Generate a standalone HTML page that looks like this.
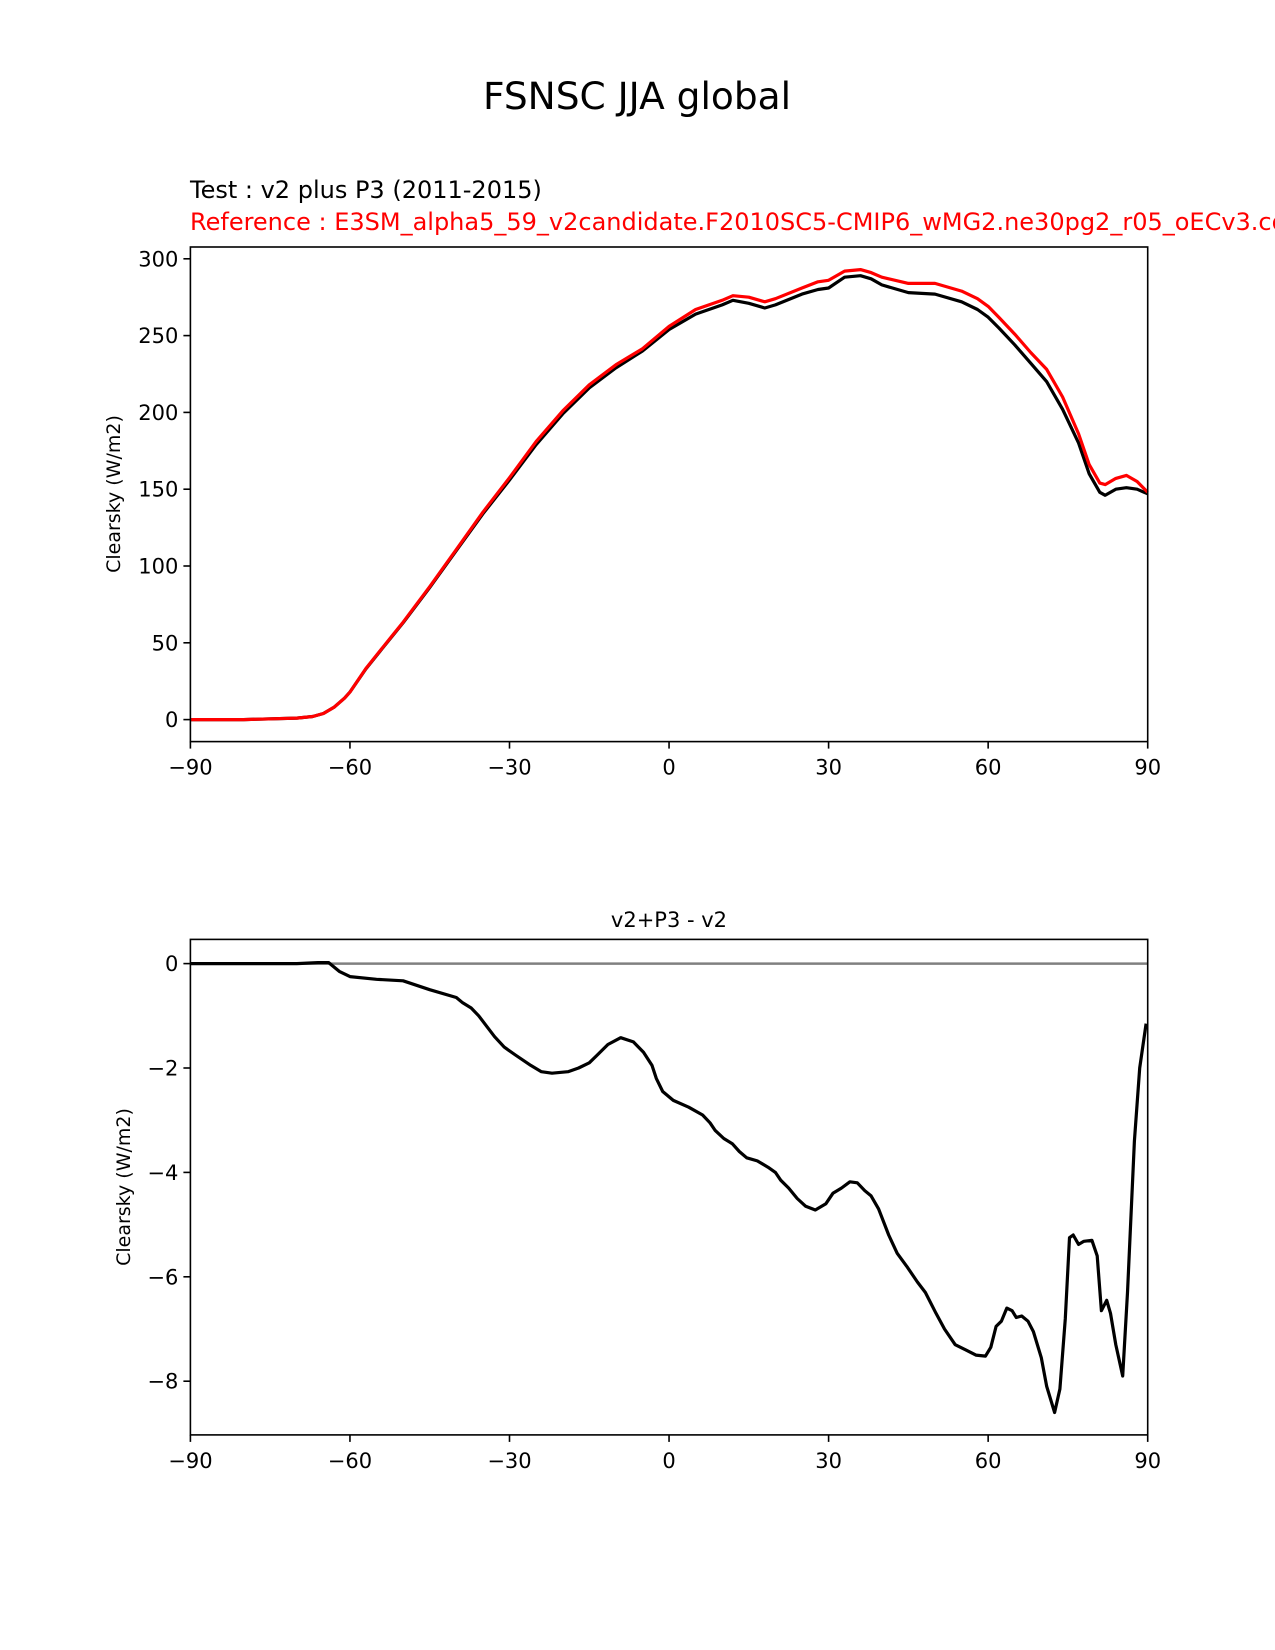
<!DOCTYPE html>
<html><head><meta charset="utf-8"><style>
body{margin:0;background:#fff;overflow:hidden;}
svg{display:block;font-family:"DejaVu Sans","Liberation Sans",sans-serif;}
</style></head><body>
<svg id="fig" width="1275" height="1650" viewBox="0 0 1275 1650">
<text x="637" y="109" font-size="37.5" text-anchor="middle">FSNSC JJA global</text>
<text x="190" y="198" font-size="24">Test : v2 plus P3 (2011-2015)</text>
<text x="190" y="230" font-size="24" fill="#ff0000">Reference : E3SM_alpha5_59_v2candidate.F2010SC5-CMIP6_wMG2.ne30pg2_r05_oECv3.cd</text>
<text x="669" y="927" font-size="21" text-anchor="middle">v2+P3 - v2</text>
<text transform="translate(120,494) rotate(-90)" font-size="19" text-anchor="middle">Clearsky (W/m2)</text>
<text transform="translate(130,1187) rotate(-90)" font-size="19" text-anchor="middle">Clearsky (W/m2)</text>
<g id="top"></g>
<g id="bot"></g>
</svg>
<script>
const xTicks=[-90,-60,-30,0,30,60,90];
const topYTicks=[0,50,100,150,200,250,300];
const botYTicks=[0,-2,-4,-6,-8];
const topLat=[-90,-80,-70,-67,-65,-63,-61,-60,-57,-54,-50,-45,-40,-35,-30,-25,-20,-15,-10,-5,0,5,10,12,15,18,20,25,28,30,33,36,38,40,45,50,55,58,60,62,65,68,71,74,77,79,81,82,84,86,88,90];
const testVals=[0,0,1,2,4,8,14,18,33,46,63,86,110,134,156,179,199,216,229,240,254,264,270,273,271,268,270,277,280,281,288,289,287,283,278,277,272,267,262,255,244,232,220,202,180,160,148,146,150,151,150,147];
const refVals=[0,0,1,2,4,8,14,18,33.3,46.3,63.4,86.5,110.7,135,157.5,181,201,218,231,241.5,256,267,273,276,275,272,274,281,285,286,292,293,291,288,284,284,279,274,269,262,251,239,228,210,186,166,154,153,157,159,155,148];
const diffLat=[-90,-70,-66,-64,-62,-60,-55,-50,-45,-40,-38.8,-37.2,-35.8,-34.3,-32.8,-31,-28.9,-26,-24,-22,-19,-17,-15,-13.5,-11.5,-9.1,-6.7,-4.8,-3.2,-2.4,-1.2,0.8,3.7,6.3,7.7,8.7,10.3,11.9,13.2,14.6,16.6,18.6,20,21,22.5,24.1,25.7,27.5,29.5,30.8,32.4,34,35.4,36.8,38,39.4,41.3,42.9,44.7,46.7,48.2,50.2,51.8,53.8,55.8,57.7,59.5,60.5,61.5,62.5,63.5,64.5,65.3,66.3,67.5,68.5,70,71,72.5,73.5,74.5,75.3,76,77,78,79.5,80.5,81.3,82.3,83,84,85.3,86.2,87.5,88.5,89.7];
const diffVals=[0,0,0.02,0.02,-0.15,-0.25,-0.3,-0.33,-0.5,-0.65,-0.75,-0.85,-1.0,-1.2,-1.4,-1.6,-1.75,-1.95,-2.07,-2.1,-2.07,-2.0,-1.9,-1.75,-1.55,-1.42,-1.5,-1.7,-1.95,-2.2,-2.45,-2.62,-2.75,-2.9,-3.05,-3.2,-3.35,-3.45,-3.6,-3.72,-3.78,-3.9,-4.0,-4.15,-4.3,-4.5,-4.65,-4.72,-4.6,-4.4,-4.3,-4.18,-4.2,-4.35,-4.45,-4.7,-5.2,-5.55,-5.8,-6.1,-6.3,-6.7,-7.0,-7.3,-7.4,-7.5,-7.52,-7.35,-6.95,-6.85,-6.6,-6.65,-6.78,-6.75,-6.85,-7.05,-7.55,-8.1,-8.6,-8.15,-6.8,-5.25,-5.2,-5.38,-5.32,-5.3,-5.6,-6.65,-6.45,-6.7,-7.3,-7.9,-6.3,-3.4,-2.0,-1.15];
const NS='http://www.w3.org/2000/svg';
const X0=190.4,X1=1147.7;
function xs(v){return X0+(v+90)/180*(X1-X0);}
function mk(p,t,a){const e=document.createElementNS(NS,t);for(const k in a)e.setAttribute(k,a[k]);p.appendChild(e);return e;}
function panel(g,top,bot,yMap,yt,fmt,pfx){
  for(const t of xTicks){const x=xs(t);
    const l=mk(g,'line',{x1:x,x2:x,y1:bot,y2:bot+7,stroke:'#000','stroke-width':1.6});
    
    const tx=mk(g,'text',{x:x,y:bot+33,'font-size':21,'text-anchor':'middle'});tx.textContent=fmt(t);
    }
  for(const t of yt){const y=yMap(t);
    const l=mk(g,'line',{x1:X0-7,x2:X0,y1:y,y2:y,stroke:'#000','stroke-width':1.6});
    
    const tx=mk(g,'text',{x:X0-12,y:y+7.5,'font-size':21,'text-anchor':'end'});tx.textContent=fmt(t);
    }
}
function line(g,lat,vals,yMap,color,name,w){
  const d=lat.map((v,i)=>(i?'L':'M')+xs(v).toFixed(1)+','+yMap(vals[i]).toFixed(1)).join('');
  const p=mk(g,'path',{d:d,fill:'none',stroke:color,'stroke-width':w,'stroke-linejoin':'round'});
  
}
const fmt=v=>String(v).replace('-','\u2212');
const gT=document.getElementById('top');
const yT=v=>719.6-v*1.536;
panel(gT,247,741.6,yT,topYTicks,fmt,'top');
line(gT,topLat,testVals,yT,'#000','test-line',3.2);
line(gT,topLat,refVals,yT,'#ff0000','reference-line',3.2);
const fT=mk(gT,'rect',{x:X0,y:247,width:X1-X0,height:741.6-247,fill:'none',stroke:'#000','stroke-width':1.6});

const gB=document.getElementById('bot');
const yB=v=>963.6-v*52.2;
panel(gB,939.4,1434.9,yB,botYTicks,fmt,'diff');
const z=mk(gB,'line',{x1:X0,x2:X1,y1:yB(0),y2:yB(0),stroke:'#808080','stroke-width':2.5});

line(gB,diffLat,diffVals,yB,'#000','diff-line',3.2);
const fB=mk(gB,'rect',{x:X0,y:939.4,width:X1-X0,height:1434.9-939.4,fill:'none',stroke:'#000','stroke-width':1.6});

</script>
</body></html>
